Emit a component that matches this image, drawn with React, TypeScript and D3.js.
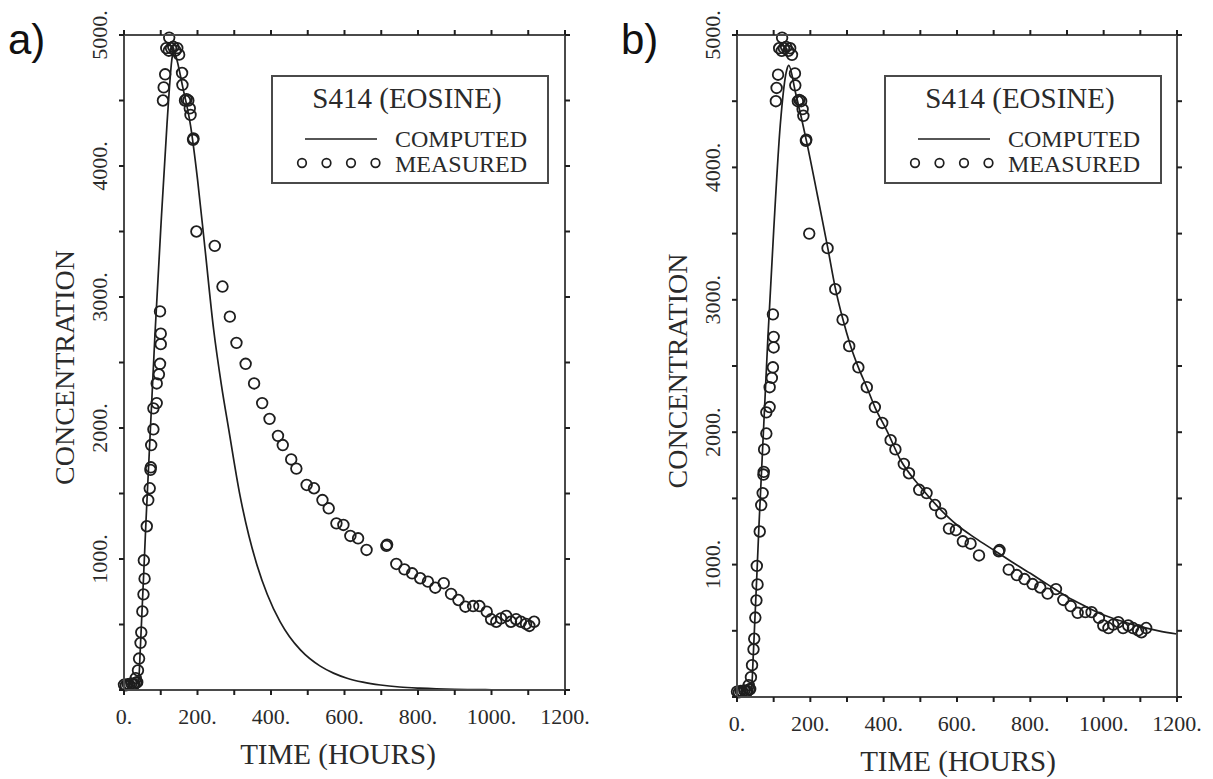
import React from "react";
import * as d3 from "d3";

// ---------- data ----------
const xTicks = [0, 100, 200, 300, 400, 500, 600, 700, 800, 900, 1000, 1100, 1200];
const xTickLabels = ["0.", "200.", "400.", "600.", "800.", "1000.", "1200."];
const yTicks = [0, 500, 1000, 1500, 2000, 2500, 3000, 3500, 4000, 4500, 5000];
const yTickLabels = ["1000.", "2000.", "3000.", "4000.", "5000."];

const measuredHours = [
  0, 5, 10, 15, 20, 25, 28, 33, 36,
  32, 38, 41, 45, 47, 50, 53, 56, 54, 62, 66, 70, 72, 73, 74, 80, 80, 89, 89, 95, 98, 100, 100, 98,
  106, 108, 112, 123, 115, 122, 128, 134, 140, 145, 150,
  158, 159, 166, 170, 175, 179, 181, 188, 189,
  197, 247, 268, 288, 306, 331, 354, 376, 396, 419, 432, 455, 469, 497, 517, 540, 557, 578, 597,
  616, 637, 660, 714, 716, 741, 763, 784, 806, 827, 847, 870, 890, 910, 929, 950, 967, 987, 999,
  1013, 1026, 1040, 1053, 1067, 1080, 1094, 1103, 1116,
];
const measuredConc = [
  40, 35, 45, 40, 50, 40, 45, 55, 60,
  90, 150, 240, 360, 440, 600, 730, 850, 990, 1250, 1450, 1540, 1680, 1700, 1870, 1990, 2150, 2190, 2340, 2410, 2490, 2640, 2720, 2890,
  4500, 4600, 4700, 4980, 4900, 4880, 4900, 4910, 4880, 4900, 4850,
  4710, 4620, 4500, 4510, 4500, 4440, 4390, 4200, 4210,
  3500, 3390, 3080, 2850, 2650, 2490, 2340, 2190, 2070, 1940, 1870, 1760, 1690, 1565, 1540, 1450, 1387, 1272, 1260,
  1176, 1158, 1069, 1100, 1110, 962, 921, 891, 853, 827, 781, 815, 733, 687, 636, 641, 641, 598, 540,
  521, 547, 565, 521, 540, 521, 504, 489, 521,
];

const computedAHours = [
  0, 25, 38, 45, 60, 84, 100, 117, 131, 135, 141, 160, 181, 200, 220, 244, 265, 285, 316, 340,
  362, 390, 425, 450, 480, 534, 570, 607, 650, 698, 750, 805, 900, 1000, 1100, 1200,
];
const computedAConc = [
  0, 0, 0, 350, 1300, 2700, 3520, 4320, 4830, 4880, 4840, 4600, 4310, 3900, 3380, 2750, 2330, 1990, 1480, 1175,
  953, 729, 520, 408, 306, 182, 129, 90, 60, 38, 23, 14, 5, 2, 1, 0,
];

const computedBHours = [
  0, 25, 38, 45, 60, 84, 100, 118, 136, 141, 160, 191, 220, 247, 268, 288, 310, 331, 354, 376,
  409, 446, 500, 550, 600, 650, 700, 750, 800, 850, 900, 950, 1000, 1050, 1100, 1150, 1200,
];
const computedBConc = [
  0, 0, 0, 350, 1300, 2700, 3520, 4320, 4740, 4770, 4560, 4180, 3780, 3400, 3090, 2860, 2650, 2490, 2340, 2190,
  2010, 1790, 1588, 1430, 1299, 1200, 1110, 1020, 934, 845, 757, 685, 619, 572, 531, 500, 476,
];

const legendTitle = "S414 (EOSINE)";
const legendComputed = "COMPUTED";
const legendMeasured = "MEASURED";
const xTitle = "TIME (HOURS)";
const yTitle = "CONCENTRATION";

// ---------- styles ----------
const SERIF = "'Liberation Serif', 'Times New Roman', serif";
const SANS = "'Liberation Sans', Arial, sans-serif";
const AXIS = "#4a4a4a";
const INK = "#1e1e1e";
const TEXT = "#2a2a2a";

type PanelProps = {
  tag: string;
  left: number;
  right: number;
  top: number;
  bottom: number;
  compHours: number[];
  compConc: number[];
  xTitleCx: number;
};

function Panel({ tag, left, right, top, bottom, compHours, compConc, xTitleCx }: PanelProps) {
  const x = d3.scaleLinear().domain([0, 1200]).range([left, right]);
  const y = d3.scaleLinear().domain([0, 5000]).range([bottom, top]);
  const line = d3
    .line<number>()
    .x((_, i) => x(compHours[i]))
    .y((_, i) => y(compConc[i]))
    .curve(d3.curveMonotoneX);
  const path = line(compConc) || "";
  const tl = 5;
  const yMid = (top + bottom) / 2;
  const lg = left + 148; // legend box left

  return (
    <g>
      <text x={left - 116} y={54} fontFamily={SANS} fontSize={42} fill="#111">
        {tag}
      </text>
      {/* computed curve */}
      <path d={path} fill="none" stroke={INK} strokeWidth={1.7} />
      {/* measured circles */}
      {measuredHours.map((h, i) => (
        <circle
          key={i}
          cx={x(h)}
          cy={y(measuredConc[i])}
          r={5.3}
          fill="none"
          stroke={INK}
          strokeWidth={1.8}
        />
      ))}
      {/* frame */}
      <rect x={left} y={top} width={right - left} height={bottom - top} fill="none" stroke={AXIS} strokeWidth={2} />
      {/* ticks */}
      {xTicks.map((t) => (
        <g key={"x" + t}>
          <line x1={x(t)} x2={x(t)} y1={bottom} y2={bottom + tl} stroke={INK} strokeWidth={2} />
          <line x1={x(t)} x2={x(t)} y1={top} y2={top - tl} stroke={INK} strokeWidth={2} />
        </g>
      ))}
      {yTicks.map((t) => (
        <g key={"y" + t}>
          <line x1={left} x2={left - tl} y1={y(t)} y2={y(t)} stroke={INK} strokeWidth={2} />
          <line x1={right} x2={right + tl} y1={y(t)} y2={y(t)} stroke={INK} strokeWidth={2} />
        </g>
      ))}
      {/* x tick labels */}
      {xTickLabels.map((lab, i) => (
        <text
          key={"xl" + i}
          x={x(i * 200)}
          y={bottom + 34}
          textAnchor="middle"
          fontFamily={SERIF}
          fontSize={22}
          fill={TEXT}
        >
          {lab}
        </text>
      ))}
      {/* y tick labels */}
      {yTickLabels.map((lab, i) => (
        <text
          key={"yl" + i}
          transform={`translate(${left - 17},${y((i + 1) * 1000)}) rotate(-90)`}
          textAnchor="middle"
          fontFamily={SERIF}
          fontSize={22}
          fill={TEXT}
        >
          {lab}
        </text>
      ))}
      {/* axis titles */}
      <text x={xTitleCx} y={bottom + 74} textAnchor="middle" fontFamily={SERIF} fontSize={29} fill={TEXT}>
        {xTitle}
      </text>
      <text
        transform={`translate(${left - 50},${yMid + 5}) rotate(-90)`}
        textAnchor="middle"
        fontFamily={SERIF}
        fontSize={28}
        fill={TEXT}
      >
        {yTitle}
      </text>
      {/* legend */}
      <rect x={lg} y={76} width={276} height={107} fill="#fff" stroke={AXIS} strokeWidth={2} />
      <text x={lg + 135} y={108} textAnchor="middle" fontFamily={SERIF} fontSize={29} fill={TEXT}>
        {legendTitle}
      </text>
      <line x1={lg + 33} x2={lg + 105} y1={139} y2={139} stroke={INK} strokeWidth={1.7} />
      <text x={lg + 123} y={147} fontFamily={SERIF} fontSize={24} fill={TEXT}>
        {legendComputed}
      </text>
      {[0, 1, 2, 3].map((k) => (
        <circle key={"lc" + k} cx={lg + 30 + k * 24.5} cy={163} r={4.3} fill="none" stroke={INK} strokeWidth={1.7} />
      ))}
      <text x={lg + 123} y={172} fontFamily={SERIF} fontSize={24} fill={TEXT}>
        {legendMeasured}
      </text>
    </g>
  );
}

export default function App() {
  return (
    <svg width={1213} height={779} style={{ display: "block", position: "absolute", left: 0, top: 0, background: "#fff" }}>
      <rect x={0} y={0} width={1213} height={779} fill="#fff" />
      <Panel
        tag="a)"
        left={124}
        right={565}
        top={35}
        bottom={690}
        compHours={computedAHours}
        compConc={computedAConc}
        xTitleCx={338}
      />
      <Panel
        tag="b)"
        left={737}
        right={1177}
        top={35}
        bottom={697}
        compHours={computedBHours}
        compConc={computedBConc}
        xTitleCx={958}
      />
    </svg>
  );
}
